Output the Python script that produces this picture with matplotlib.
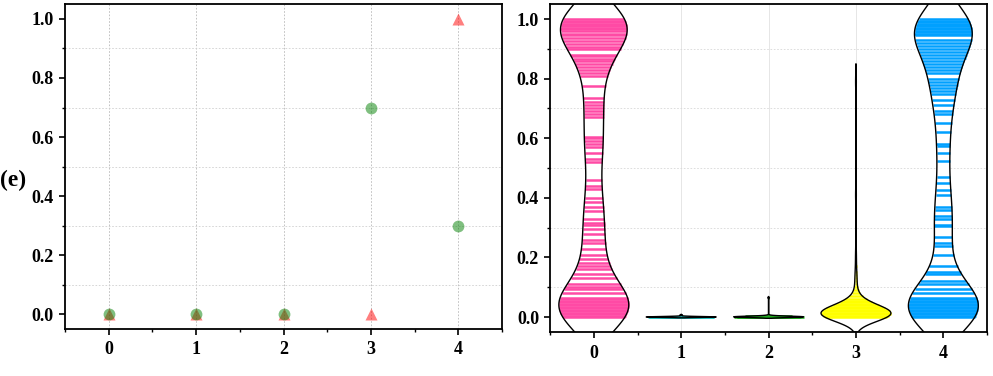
import numpy as np
import matplotlib
matplotlib.use("Agg")
import matplotlib.pyplot as plt
from matplotlib.ticker import MultipleLocator, FormatStrFormatter

# ---- data: left panel (scatter) ----
x_cat = [0, 1, 2, 3, 4]
green_vals = [0.0, 0.0, 0.0, 0.7, 0.3]
red_vals = [0.0, 0.0, 0.0, 0.0, 1.0]

v0_vals = [0.0, 0.005, 0.01, 0.015, 0.02, 0.025, 0.03, 0.035, 0.04, 0.045, 0.05, 0.055, 0.06, 0.065,
           0.08, 0.095, 0.10, 0.11, 0.13, 0.145, 0.16, 0.17, 0.18, 0.195, 0.21, 0.23, 0.25, 0.26,
           0.28, 0.295, 0.31, 0.315, 0.33, 0.355, 0.37, 0.385, 0.40, 0.43, 0.44, 0.46, 0.52, 0.53,
           0.55, 0.57, 0.58, 0.59, 0.60, 0.605, 0.67, 0.68, 0.69, 0.70, 0.71, 0.72, 0.735, 0.775,
           0.81, 0.82, 0.83, 0.84, 0.85, 0.86, 0.865, 0.875, 0.88, 0.90, 0.905, 0.915, 0.925, 0.935,
           0.945, 0.95, 0.96, 0.965, 0.97, 0.975, 0.98, 0.985, 0.99, 0.995, 1.0]
v0_counts = [3, 3, 3, 3, 3, 3, 3, 2, 2, 2, 2, 2, 2, 2] + [1] * 58 + [2, 2, 3, 3, 3, 3, 3, 3] + [7]

v1_vals = [0.0, 0.001, 0.002, 0.007]
v1_counts = [20, 10, 5, 1]

v2_vals = [0.0, 0.001, 0.002, 0.003, 0.005, 0.065]
v2_counts = [20, 15, 10, 5, 2, 1]

v3_vals = [0.0, 0.005, 0.01, 0.015, 0.02, 0.025, 0.03, 0.035, 0.04, 0.045, 0.05, 0.055, 0.06,
           0.07, 0.08, 0.09, 0.10, 0.11, 0.12, 0.13, 0.14, 0.15, 0.17, 0.20, 0.22,
           0.28, 0.40, 0.42, 0.55, 0.60, 0.78, 0.80]
v3_counts = [30, 40, 40, 30, 18, 12, 9, 7, 6, 5, 4, 3, 3,
             1, 1, 1, 1, 1, 1, 1, 1, 1, 1, 1, 1,
             1, 1, 1, 1, 1, 1, 1]

v4_vals = [0.0, 0.005, 0.01, 0.015, 0.02, 0.025, 0.03, 0.035, 0.04, 0.045, 0.05, 0.055, 0.06, 0.065,
           0.08, 0.095, 0.11, 0.12, 0.145, 0.15, 0.17, 0.21, 0.24, 0.25, 0.27, 0.305, 0.31, 0.33,
           0.34, 0.36, 0.37, 0.41, 0.425, 0.45, 0.47, 0.525, 0.55, 0.575, 0.58, 0.62, 0.65, 0.68,
           0.69, 0.71, 0.73, 0.75, 0.76, 0.77, 0.78, 0.79, 0.80, 0.82, 0.83, 0.84, 0.85, 0.86,
           0.87, 0.88, 0.89, 0.90, 0.91, 0.92, 0.93, 0.945, 0.95, 0.955, 0.96, 0.965, 0.97, 0.975,
           0.98, 0.985, 0.99, 0.995, 1.0]
v4_counts = [3, 3, 3, 3, 3, 3, 3, 2, 2, 2, 2, 2, 2, 2] + [1] * 49 + [2] * 11 + [3]

violin_data = [(v0_vals, v0_counts), (v1_vals, v1_counts), (v2_vals, v2_counts),
               (v3_vals, v3_counts), (v4_vals, v4_counts)]
violin_colors = ["#ff4aa5", "#1fc2c2", "#1faa1f", "#ffff00", "#00a0ff"]
bandwidths = [0.075, 0.0012, 0.002, 0.025, 0.075]

plt.rcParams["font.family"] = ["Liberation Serif", "DejaVu Serif"]
plt.rcParams["font.weight"] = "bold"


def style_axes(ax):
    ax.set_xlim(-0.5, 4.5)
    ax.set_ylim(-0.05, 1.05)
    ax.xaxis.set_major_locator(MultipleLocator(1))
    ax.xaxis.set_minor_locator(MultipleLocator(0.5))
    ax.yaxis.set_major_locator(MultipleLocator(0.2))
    ax.yaxis.set_minor_locator(MultipleLocator(0.1))
    ax.yaxis.set_major_formatter(FormatStrFormatter("%.1f"))
    ax.tick_params(which="major", direction="out", length=4, width=1.2, labelsize=13, pad=4)
    ax.tick_params(which="minor", direction="out", length=2.5, width=1.0)
    ax.tick_params(axis="x", which="major", pad=5)
    for lab in ax.get_xticklabels() + ax.get_yticklabels():
        lab.set_fontweight("bold")
    for sp in ax.spines.values():
        sp.set_linewidth(1.3)


def kde(vals, counts, h, grid):
    d = np.zeros_like(grid)
    for v, c in zip(vals, counts):
        d += c * np.exp(-0.5 * ((grid - v) / h) ** 2)
    return d


fig = plt.figure(figsize=(9.93, 3.76), dpi=100)
ax1 = fig.add_axes([0.0655, 0.125, 0.440, 0.864])
ax2 = fig.add_axes([0.554, 0.117, 0.440, 0.872])

# ---- left panel ----
style_axes(ax1)
for xv in x_cat:
    ax1.axvline(xv, color="#b8b8b8", lw=0.6, ls=(0, (2, 2)), zorder=0)
for yv in [0.1, 0.3, 0.5, 0.7, 0.9]:
    ax1.axhline(yv, color="#d0d0d0", lw=0.6, ls=(0, (2, 2)), zorder=0)
ax1.plot(x_cat, red_vals, ls="none", marker="^", ms=9, color="red", alpha=0.5, mec="none")
ax1.plot(x_cat, green_vals, ls="none", marker="o", ms=8.5, color="green", alpha=0.5, mec="none")

fig.text(0.0, 1 - 180 / 376, "(e)", fontsize=17, fontweight="bold", va="center", ha="left")

# ---- right panel ----
style_axes(ax2)
for xv in x_cat:
    ax2.axvline(xv, color="#e2e2e2", lw=0.6, zorder=0)
for yv in [0.1, 0.3, 0.5, 0.7, 0.9]:
    ax2.axhline(yv, color="#d8d8d8", lw=0.6, ls=(0, (2, 2)), zorder=0)

for pos, ((vals, counts), col, h) in enumerate(zip(violin_data, violin_colors, bandwidths)):
    vals = np.array(vals)
    grid = np.linspace(vals.min() - 2 * h, vals.max() + 2 * h, 600)
    dens = kde(vals, counts, h, grid)
    half = 0.4 * dens / dens.max()
    ax2.fill_betweenx(grid, pos - half, pos + half, facecolor="white", edgecolor="none", zorder=2)
    # stick lines for every observation
    hw = np.interp(vals, grid, half)
    ax2.hlines(vals, pos - hw, pos + hw, colors=col, lw=1.8, zorder=3)
    ax2.fill_betweenx(grid, pos - half, pos + half, facecolor="none", edgecolor="black", lw=1.0, zorder=4)

fig.savefig("out.png", dpi=100)
